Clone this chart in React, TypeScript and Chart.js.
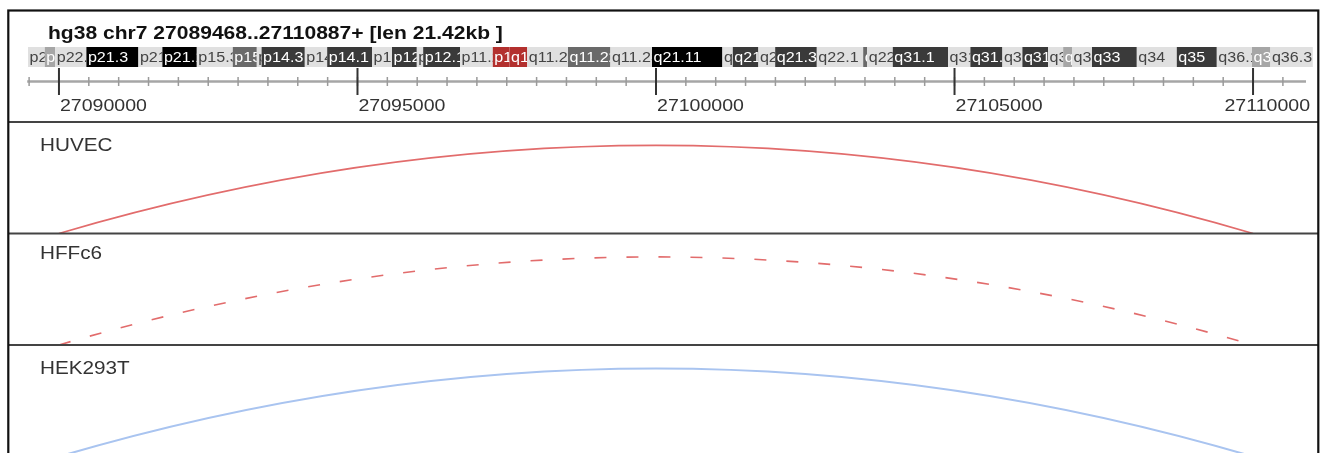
import React, { useEffect, useRef } from 'react';
import { Chart, registerables } from 'chart.js';

Chart.register(...registerables);

// ---------- data ----------
const titleText = 'hg38 chr7 27089468..27110887+ [len 21.42kb ]';
const regionStart = 27089468;
const regionEnd = 27110887;

const rulerMajorTicks = [27090000, 27095000, 27100000, 27105000, 27110000];
const rulerMajorLabels = ['27090000', '27095000', '27100000', '27105000', '27110000'];
const rulerMinorStep = 500;

// chr7 ideogram (Mb, as drawn)
const bandNames = ['p22.3', 'p22.2', 'p22.1', 'p21.3', 'p21.2', 'p21.1', 'p15.3', 'p15.2', 'p15.1', 'p14.3', 'p14.2', 'p14.1', 'p13', 'p12.3', 'p12.2', 'p12.1', 'p11.2', 'p11.1', 'q11.1', 'q11.21', 'q11.22', 'q11.23', 'q21.11', 'q21.12', 'q21.13', 'q21.2', 'q21.3', 'q22.1', 'q22.2', 'q22.3', 'q31.1', 'q31.2', 'q31.31', 'q31.32', 'q31.33', 'q32.1', 'q32.2', 'q32.3', 'q33', 'q34', 'q35', 'q36.1', 'q36.2', 'q36.3'];
const bandStarts = [0, 2.1, 3.4, 7.3, 13.8, 16.8, 21.1, 25.6, 28.6, 29.2, 34.6, 37.4, 43.0, 45.5, 48.6, 49.4, 54.0, 58.1, 60.2, 62.4, 67.5, 72.8, 78.0, 86.8, 88.1, 91.3, 93.4, 98.6, 104.4, 104.9, 108.1, 115.0, 117.8, 121.8, 124.3, 127.5, 129.4, 130.5, 133.0, 138.6, 143.6, 148.6, 153.0, 155.3];
const bandEnds = [2.1, 3.4, 7.3, 13.8, 16.8, 21.1, 25.6, 28.6, 29.2, 34.6, 37.4, 43.0, 45.5, 48.6, 49.4, 54.0, 58.1, 60.2, 62.4, 67.5, 72.8, 78.0, 86.8, 88.1, 91.3, 93.4, 98.6, 104.4, 104.9, 108.1, 115.0, 117.8, 121.8, 124.3, 127.5, 129.4, 130.5, 133.0, 138.6, 143.6, 148.6, 153.0, 155.3, 160.6];
const bandStains = ['gneg', 'gpos25', 'gneg', 'gpos100', 'gneg', 'gpos100', 'gneg', 'gpos50', 'gneg', 'gpos75', 'gneg', 'gpos75', 'gneg', 'gpos75', 'gneg', 'gpos75', 'gneg', 'acen', 'acen', 'gneg', 'gpos50', 'gneg', 'gpos100', 'gneg', 'gpos75', 'gneg', 'gpos75', 'gneg', 'gpos50', 'gneg', 'gpos75', 'gneg', 'gpos75', 'gneg', 'gpos75', 'gneg', 'gpos25', 'gneg', 'gpos75', 'gneg', 'gpos75', 'gneg', 'gpos25', 'gneg'];

// interaction tracks
const trackNames = ['HUVEC', 'HFFc6', 'HEK293T'];
const arcStarts = [27090000, 27090000, 27090000];
const arcEnds = [27110000, 27110000, 27110000];
const arcScores = [0.79, 0.79, 0.79];
const arcColors = ['#e26c6c', '#e26c6c', '#a9c4f0'];
const arcDashes = [[], [12, 20], []];

// ---------- styling ----------
const FONT = '"Liberation Sans", Arial, Helvetica, sans-serif';
const stainColors: Record<string, string> = {
  gneg: '#e0e0e0',
  gpos25: '#a6a6a6',
  gpos50: '#6a6a6a',
  gpos75: '#3a3a3a',
  gpos100: '#000000',
  acen: '#b3302e',
};
const labelOffsets = [28.5, 25.5, 29];

function stretchText(ctx: CanvasRenderingContext2D, text: string, x: number, y: number, font: string, color: string, sx: number) {
  ctx.save();
  ctx.font = font;
  ctx.fillStyle = color;
  ctx.textAlign = 'left';
  ctx.textBaseline = 'alphabetic';
  ctx.translate(x, y);
  ctx.scale(sx, 1);
  ctx.fillText(text, 0, 0);
  ctx.restore();
}

function textWidth(ctx: CanvasRenderingContext2D, text: string, font: string, sx: number) {
  ctx.save();
  ctx.font = font;
  const w = ctx.measureText(text).width * sx;
  ctx.restore();
  return w;
}

function line(ctx: CanvasRenderingContext2D, x0: number, y0: number, x1: number, y1: number, color: string, w: number) {
  ctx.save();
  ctx.strokeStyle = color;
  ctx.lineWidth = w;
  ctx.beginPath();
  ctx.moveTo(x0, y0);
  ctx.lineTo(x1, y1);
  ctx.stroke();
  ctx.restore();
}

const browserPlugin = {
  id: 'browserPlugin',
  afterDraw(chart: any) {
    const ctx: CanvasRenderingContext2D = chart.ctx;
    const xs = chart.scales.x;
    const xi = chart.scales.xIdeo;

    // title
    stretchText(ctx, titleText, 48, 39, `bold 18px ${FONT}`, '#111', 1.17);

    // ideogram
    const bandTop = 47;
    const bandH = 20;
    for (let i = 0; i < bandNames.length; i++) {
      const x0 = xi.getPixelForValue(bandStarts[i]);
      const x1 = xi.getPixelForValue(bandEnds[i]);
      ctx.fillStyle = stainColors[bandStains[i]];
      ctx.fillRect(x0, bandTop, x1 - x0, bandH);
      ctx.save();
      ctx.beginPath();
      ctx.rect(x0, bandTop, x1 - x0, bandH);
      ctx.clip();
      stretchText(ctx, bandNames[i], x0 + 1.5, 61.5, `14px ${FONT}`, bandStains[i] === 'gneg' ? '#444' : '#fff', 1.15);
      ctx.restore();
    }

    // ruler
    const rulerY = 81.5;
    line(ctx, xs.left, rulerY, xs.right, rulerY, '#a6a6a6', 2.5);
    const firstMinor = Math.ceil(regionStart / rulerMinorStep) * rulerMinorStep;
    for (let v = firstMinor; v <= regionEnd; v += rulerMinorStep) {
      const px = xs.getPixelForValue(v);
      line(ctx, px, rulerY - 4.5, px, rulerY + 4.5, '#9a9a9a', 1.5);
    }
    const labelFont = `17px ${FONT}`;
    rulerMajorTicks.forEach((v, i) => {
      const px = xs.getPixelForValue(v);
      line(ctx, px, 68, px, 95, '#333', 2);
      const w = textWidth(ctx, rulerMajorLabels[i], labelFont, 1.15);
      const lx = Math.min(px + 1, 1310 - w);
      stretchText(ctx, rulerMajorLabels[i], lx, 111, labelFont, '#333', 1.15);
    });

    // tracks
    trackNames.forEach((name, i) => {
      const ys = chart.scales['y' + i];
      line(ctx, 8, ys.top, 1319, ys.top, '#444', 2.2);
      stretchText(ctx, name, 40, ys.top + labelOffsets[i], `18px ${FONT}`, '#333', 1.15);

      const meta = chart.getDatasetMeta(i);
      const p0 = meta.data[0];
      const p1 = meta.data[1];
      const base = ys.getPixelForValue(0);
      const peak = ys.getPixelForValue(arcScores[i]);
      const ctrl = 2 * peak - base;
      ctx.save();
      ctx.beginPath();
      ctx.rect(ys.left - 2000, ys.top, 4000, ys.bottom - ys.top);
      ctx.clip();
      ctx.strokeStyle = arcColors[i];
      ctx.lineWidth = i === 2 ? 2 : 1.6;
      ctx.setLineDash(arcDashes[i]);
      ctx.beginPath();
      ctx.moveTo(p0.x, base);
      ctx.quadraticCurveTo((p0.x + p1.x) / 2, ctrl, p1.x, base);
      ctx.stroke();
      ctx.restore();
    });

    // outer frame
    ctx.save();
    ctx.strokeStyle = '#111';
    ctx.lineWidth = 2.2;
    ctx.strokeRect(8.3, 10.5, 1310, 600);
    ctx.restore();
  },
};

export default function App() {
  const ref = useRef<HTMLCanvasElement | null>(null);

  useEffect(() => {
    if (!ref.current) return;
    const datasets = trackNames.map((name, i) => ({
      label: name,
      data: [
        { x: arcStarts[i], y: 0 },
        { x: arcEnds[i], y: 0 },
      ],
      xAxisID: 'x',
      yAxisID: 'y' + i,
      showLine: false,
      pointRadius: 0,
      borderColor: arcColors[i],
      backgroundColor: arcColors[i],
    }));
    const yScale = () => ({
      type: 'linear' as const,
      display: false,
      min: 0,
      max: 1,
      position: 'right' as const,
      stack: 'tracks',
      stackWeight: 1,
    });
    const chart = new Chart(ref.current, {
      type: 'scatter',
      data: { datasets },
      options: {
        animation: false,
        responsive: false,
        devicePixelRatio: 1,
        events: [],
        layout: { padding: { left: 27.2, right: 21, top: 122, bottom: 13.5 } },
        plugins: { legend: { display: false }, tooltip: { enabled: false } },
        scales: {
          x: { type: 'linear', display: false, min: regionStart, max: regionEnd },
          xIdeo: { type: 'linear', axis: 'x', display: false, min: -0.1, max: 159.75 },
          y0: yScale(),
          y1: yScale(),
          y2: yScale(),
        } as any,
      },
      plugins: [browserPlugin],
    });
    return () => chart.destroy();
  }, []);

  return (
    <div style={{ position: 'absolute', left: 0, top: 0, width: 1327, height: 453, overflow: 'hidden', background: '#fff' }}>
      <canvas ref={ref} width={1327} height={470} style={{ display: 'block' }} />
    </div>
  );
}
